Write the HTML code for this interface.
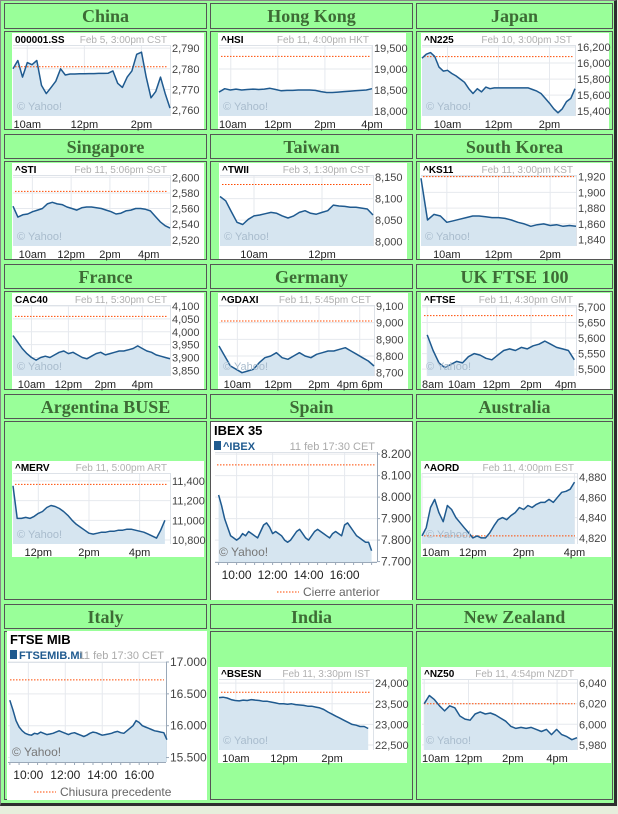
<!DOCTYPE html>
<html><head><meta charset="utf-8">
<style>
html,body{margin:0;padding:0;}
body{width:618px;height:814px;background:#e6eedc;position:relative;overflow:hidden;font-family:"Liberation Sans",sans-serif;}
#frame{position:absolute;left:0;top:0;width:613px;height:802px;background:#99ff99;border-right:3px solid #2e2e2e;border-bottom:3px solid #2e2e2e;border-left:1px solid #888;border-top:1px solid #888;}
.hd{position:absolute;background:#99ff99;border:1px solid #555;box-sizing:border-box;text-align:center;font-family:"Liberation Serif",serif;font-weight:bold;font-size:18px;color:#3d6b35;line-height:24px;}
.bd{position:absolute;background:#99ff99;border:1px solid #555;box-sizing:border-box;}
svg{position:absolute;left:0;top:0;}
</style></head>
<body>
<div id="frame"></div>
<div id="cells"></div>
<svg id="charts" width="618" height="814"></svg>
<script>
// ---------- data ----------
const chinaValues=[2780,2784,2776,2783,2782,2784,2772,2768,2771,2774,2780,2777,2777.5,2777.5,2777.6,2777.6,2777.7,2777.7,2777.8,2777.8,2777.9,2779,2773,2771,2776,2779,2787,2788,2776,2766,2769,2776,2768,2761];
const chinaYTicks=[2790,2780,2770,2760];const chinaYLabels=["2,790","2,780","2,770","2,760"];
const chinaYDomain=[2757.2,2791.5];const chinaXDomain=[9.5,15.0];const chinaT=[9.5,15.0];
const chinaXTicks=[10,12,14];const chinaXLabels=["10am","12pm","2pm"];const chinaPrev=2781;

const hkValues=[18450,18530,18500,18520,18500,18510,18520,18510,18520,18540,18510,18480,18490,18490,18500,18500,18500,18490,18460,18440,18440,18450,18460,18470,18480,18490,18500,18530];
const hkYTicks=[19500,19000,18500,18000];const hkYLabels=["19,500","19,000","18,500","18,000"];
const hkYDomain=[17880,19570];const hkXDomain=[9.5,16.0];const hkT=[9.5,16.0];
const hkXTicks=[10,12,14,16];const hkXLabels=["10am","12pm","2pm","4pm"];const hkPrev=19300;

const jpValues=[16060,16110,16130,16080,15950,15900,15910,15870,15840,15800,15760,15680,15620,15680,15640,15700,15680,15690,15690,15690,15690,15690,15690,15690,15690,15690,15670,15650,15620,15560,15500,15430,15380,15430,15520,15560,15680];
const jpYTicks=[16200,16000,15800,15600,15400];const jpYLabels=["16,200","16,000","15,800","15,600","15,400"];
const jpYDomain=[15340,16225];const jpXDomain=[9.0,15.0];const jpT=[9.0,15.0];
const jpXTicks=[10,12,14];const jpXLabels=["10am","12pm","2pm"];const jpPrev=16080;

const sgValues=[2563,2549,2552,2553,2556,2558,2560,2566,2568,2566,2565,2562,2560,2558,2561,2562,2562,2561,2560,2558,2556,2553,2554,2557,2558,2560,2560,2559,2557,2550,2543,2538,2535];
const sgYTicks=[2600,2580,2560,2540,2520];const sgYLabels=["2,600","2,580","2,560","2,540","2,520"];
const sgYDomain=[2512,2603];const sgXDomain=[9.0,17.1];const sgT=[9.0,17.1];
const sgXTicks=[10,12,14,16];const sgXLabels=["10am","12pm","2pm","4pm"];const sgPrev=2582;

const twValues=[8105,8095,8070,8045,8040,8052,8060,8062,8065,8068,8066,8060,8055,8060,8068,8072,8066,8064,8068,8072,8085,8083,8082,8080,8080,8078,8076,8062];
const twYTicks=[8150,8100,8050,8000];const twYLabels=["8,150","8,100","8,050","8,000"];
const twYDomain=[7990,8155];const twXDomain=[9.0,13.5];const twT=[9.0,13.5];
const twXTicks=[10,12];const twXLabels=["10am","12pm"];const twPrev=8133;

const krValues=[1918,1865,1872,1870,1862,1864,1866,1868,1870,1870,1869,1868,1868,1867,1865,1862,1860,1857,1859,1860,1858,1859,1857,1858,1857];
const krYTicks=[1920,1900,1880,1860,1840];const krYLabels=["1,920","1,900","1,880","1,860","1,840"];
const krYDomain=[1832,1922];const krXDomain=[9.0,15.0];const krT=[9.0,15.0];
const krXTicks=[10,12,14];const krXLabels=["10am","12pm","2pm"];const krPrev=1920;

const frValues=[3985,3960,3935,3915,3900,3890,3900,3905,3900,3910,3920,3925,3915,3920,3910,3900,3895,3905,3915,3920,3910,3915,3920,3925,3925,3930,3935,3945,3935,3925,3920,3910,3905,3900,3895];
const frYTicks=[4100,4050,4000,3950,3900,3850];const frYLabels=["4,100","4,050","4,000","3,950","3,900","3,850"];
const frYDomain=[3828,4104];const frXDomain=[9.0,17.5];const frT=[9.0,17.5];
const frXTicks=[10,12,14,16];const frXLabels=["10am","12pm","2pm","4pm"];const frPrev=4060;

const deValues=[8860,8800,8740,8720,8700,8710,8720,8760,8790,8800,8820,8790,8780,8800,8820,8800,8790,8810,8820,8830,8830,8840,8850,8830,8810,8790,8770,8740];
const deYTicks=[9100,9000,8900,8800,8700];const deYLabels=["9,100","9,000","8,900","8,800","8,700"];
const deYDomain=[8680,9106];const deXDomain=[9.1,16.7];const deT=[9.1,16.7];
const deXTicks=[10,12,14,16];const deXLabels=["10am","12pm","2pm","4pm 6pm"];const dePrev=9010;

const ukValues=[5610,5560,5520,5505,5515,5525,5520,5540,5550,5545,5535,5530,5545,5560,5565,5560,5570,5565,5575,5580,5590,5580,5570,5565,5560,5530];
const ukYTicks=[5700,5650,5600,5550,5500];const ukYLabels=["5,700","5,650","5,600","5,550","5,500"];
const ukYDomain=[5478,5706];const ukXDomain=[7.7,16.6];const ukT=[8.0,16.5];
const ukXTicks=[8,10,12,14,16];const ukXLabels=["8am","10am","12pm","2pm","4pm"];const ukPrev=5672;

const arValues=[11350,11020,11020,11030,11020,11040,11070,11090,11130,11150,11140,11120,11090,11050,11000,10960,10930,10900,10870,10860,10870,10880,10880,10890,10890,10900,10900,10910,10910,10900,10890,10880,10860,10840,10820,10900,11000];
const arYTicks=[11400,11200,11000,10800];const arYLabels=["11,400","11,200","11,000","10,800"];
const arYDomain=[10760,11480];const arXDomain=[11.0,17.2];const arT=[11.0,17.0];
const arXTicks=[12,14,16];const arXLabels=["12pm","2pm","4pm"];const arPrev=11365;

const esValues=[8010,7960,7900,7860,7820,7810,7800,7810,7830,7820,7840,7830,7820,7810,7840,7870,7880,7860,7830,7840,7830,7820,7800,7790,7800,7820,7840,7850,7830,7810,7800,7820,7840,7850,7840,7830,7820,7810,7830,7840,7830,7820,7870,7880,7860,7840,7820,7810,7800,7790,7790,7750];
const esYTicks=[8200,8100,8000,7900,7800,7700];const esYLabels=["8.200","8.100","8.000","7.900","7.800","7.700"];
const esYDomain=[7698,8210];const esXDomain=[8.8,17.8];const esT=[9.0,17.5];
const esXTicks=[10,12,14,16];const esXLabels=["10:00","12:00","14:00","16:00"];const esPrev=8150;

const auValues=[4822,4830,4850,4858,4845,4836,4852,4848,4840,4835,4830,4825,4820,4822,4820,4820,4825,4832,4838,4840,4838,4842,4845,4850,4848,4852,4850,4853,4855,4855,4858,4855,4860,4865,4866,4868,4875];
const auYTicks=[4880,4860,4840,4820];const auYLabels=["4,880","4,860","4,840","4,820"];
const auYDomain=[4814,4884];const auXDomain=[10.0,16.1];const auT=[10.0,16.0];
const auXTicks=[10,12,14,16];const auXLabels=["10am","12pm","2pm","4pm"];const auPrev=4822;

const itValues=[16400,16250,16080,15980,15920,15880,15860,15850,15880,15870,15900,15880,15860,15870,15880,15900,15920,15900,15880,15860,15880,15890,15870,15850,15830,15850,15880,15900,15890,15870,15850,15860,15870,15880,15900,15910,15890,15880,15920,15960,16000,16080,16050,16000,15980,15960,15940,15920,15910,15900,15890,15780];
const itYTicks=[17000,16500,16000,15500];const itYLabels=["17.000","16.500","16.000","15.500"];
const itYDomain=[15430,17000];const itXDomain=[8.9,17.45];const itT=[9.0,17.5];
const itXTicks=[10,12,14,16];const itXLabels=["10:00","12:00","14:00","16:00"];const itPrev=16720;

const inValues=[23650,23660,23640,23600,23580,23570,23590,23580,23600,23590,23580,23560,23560,23540,23520,23500,23500,23490,23500,23480,23470,23460,23440,23440,23420,23400,23360,23300,23250,23200,23150,23100,23050,23000,22980,22950,22950,22900];
const inYTicks=[24000,23500,23000,22500];const inYLabels=["24,000","23,500","23,000","22,500"];
const inYDomain=[22380,24100];const inXDomain=[9.3,15.7];const inT=[9.3,15.5];
const inXTicks=[10,12,14];const inXLabels=["10am","12pm","2pm"];const inPrev=23780;

const nzValues=[6020,6028,6024,6018,6013,6018,6016,6008,6005,6004,6010,6012,6010,6011,6009,6006,6003,5998,5996,5997,5996,5997,5995,5993,5995,5990,5995,5990,5988,5985,5987];
const nzYTicks=[6040,6020,6000,5980];const nzYLabels=["6,040","6,020","6,000","5,980"];
const nzYDomain=[5975,6044];const nzXDomain=[9.9,16.9];const nzT=[10.0,16.9];
const nzXTicks=[10,12,14,16];const nzXLabels=["10am","12pm","2pm","4pm"];const nzPrev=6020;

// ---------- grid ----------
const cols=[[4,207],[210,413],[416,613]];
const rows=[[3,29,31,130],[134,159,161,260],[264,289,291,390],[394,419,421,600],[604,629,631,800]];
const names=[["China","Hong Kong","Japan"],["Singapore","Taiwan","South Korea"],["France","Germany","UK FTSE 100"],["Argentina BUSE","Spain","Australia"],["Italy","India","New Zealand"]];
const cellsEl=document.getElementById('cells');
rows.forEach((r,ri)=>cols.forEach((c,ci)=>{
  const h=document.createElement('div');h.className='hd';
  h.style.cssText=`left:${c[0]}px;top:${r[0]}px;width:${c[1]-c[0]}px;height:${r[1]-r[0]}px;`;
  h.textContent=names[ri][ci];
  
  
  cellsEl.appendChild(h);
  const b=document.createElement('div');b.className='bd';
  b.style.cssText=`left:${c[0]}px;top:${r[2]}px;width:${c[1]-c[0]}px;height:${r[3]-r[2]}px;`;
  
  
  cellsEl.appendChild(b);
}));

// ---------- chart drawing ----------
const NS='http://www.w3.org/2000/svg';
const svg=document.getElementById('charts');
function el(tag,attrs,parent,txt){const e=document.createElementNS(NS,tag);for(const k in attrs)e.setAttribute(k,attrs[k]);if(txt!==undefined)e.textContent=txt;parent.appendChild(e);return e;}
function draw(c){
  const g=el('g',{},svg);
  
  
  const [bx,by,bw,bh]=c.box;
  el('rect',{x:bx,y:by,width:bw,height:bh,fill:'#fff'},g);
  let L,R,T,B;
  if(c.big){L=c.plot[0];R=c.plot[1];T=c.plot[2];B=c.plot[3];}
  else{L=bx+1;R=bx+bw-34;T=by+12;B=by+83;}
  const xs=t=>L+(t-c.xDomain[0])/(c.xDomain[1]-c.xDomain[0])*(R-L);
  const ys=v=>B-(v-c.yDomain[0])/(c.yDomain[1]-c.yDomain[0])*(B-T);
  // grid
  c.xTicks.forEach(t=>{const gl=el('line',{x1:xs(t),x2:xs(t),y1:T,y2:B,stroke:'#e6e9ee','stroke-width':1},g);});
  c.yTicks.forEach(v=>{const gl=el('line',{x1:L,x2:R,y1:ys(v),y2:ys(v),stroke:'#e6e9ee','stroke-width':1},g);});
  el('line',{x1:L,x2:R,y1:T+0.5,y2:T+0.5,stroke:'#dde2e8'},g);
  el('line',{x1:R+0.5,x2:R+0.5,y1:T,y2:B,stroke:c.big?'#9aa8b8':'#dde2e8'},g);
  // series
  const n=c.values.length;
  const pts=c.values.map((v,i)=>[xs(c.t[0]+(c.t[1]-c.t[0])*i/(n-1)),ys(v)]);
  const d=pts.map((p,i)=>(i?'L':'M')+p[0].toFixed(1)+','+p[1].toFixed(1)).join('');
  const area=el('path',{d:d+`L${pts[n-1][0].toFixed(1)},${B}L${pts[0][0].toFixed(1)},${B}Z`,fill:'#d6e5f0'},g);
  
  const pv=el('line',{x1:L+2,x2:R-2,y1:ys(c.prev),y2:ys(c.prev),stroke:'#ff4a00','stroke-width':1,'stroke-dasharray':'1.5,1.5'},g);
  
  const ln=el('path',{d:d,fill:'none',stroke:'#1f5a8f','stroke-width':1.5,'stroke-linejoin':'round'},g);
  
  // watermark
  el('text',{x:L+4,y:B-6,'font-size':c.big?12:11,fill:c.big?'#777':'#a9bccd'},g,'© Yahoo!');
  // y labels
  c.yTicks.forEach((v,i)=>{
    if(c.big)el('line',{x1:R,x2:R+3,y1:ys(v),y2:ys(v),stroke:'#9aa8b8'},g);
    const tl=el('text',{x:R+(c.big?4:2),y:ys(v)+4,'font-size':c.big?12:11,fill:'#444'},g,c.yLabels[i]);
    
  });
  // x labels
  c.xTicks.forEach((t,i)=>{
    let x=xs(t),anchor='middle';
    if(!c.big && x-12<bx+1){x=bx+1;anchor='start';}
    const tl=el('text',{x:x,y:c.big?B+17:by+95,'font-size':c.big?12:11,fill:'#222','text-anchor':anchor},g,c.xLabels[i]);
    
  });
  if(c.big){
    for(let t=Math.ceil(c.xDomain[0]*2)/2;t<=c.xDomain[1];t+=0.5)el('line',{x1:xs(t),x2:xs(t),y1:B,y2:B+3,stroke:'#9aa8b8'},g);
    el('line',{x1:L,x2:R,y1:B+0.5,y2:B+0.5,stroke:'#9aa8b8'},g);
    const tt=el('text',{x:bx+3,y:by+13,'font-size':13,'font-weight':'bold',fill:'#000'},g,c.title);
    
    el('rect',{x:bx+3,y:by+19,width:7,height:9,fill:'#1f5a8f'},g);
    el('text',{x:bx+12,y:by+28,'font-size':11,'font-weight':'bold',fill:'#1f5a8f'},g,c.symbol);
    el('text',{x:R-2,y:by+28,'font-size':11,fill:'#aaa','text-anchor':'end'},g,c.date);
    el('line',{x1:c.legX,x2:c.legX+22,y1:bh+by-8,y2:bh+by-8,stroke:'#ff4a00','stroke-dasharray':'1.5,1.5'},g);
    const lg=el('text',{x:c.legX+26,y:bh+by-4,'font-size':12,fill:'#666'},g,c.legend);
    
  } else {
    const tt=el('text',{x:bx+3,y:by+10,'font-size':10,'font-weight':'bold',fill:'#000'},g,c.symbol);
    
    el('text',{x:R-3,y:by+10,'font-size':10,fill:'#b0b0b0','text-anchor':'end'},g,c.date);
  }
}
function cfg(id,box,symbol,date,values,yTicks,yLabels,yDomain,xDomain,t,xTicks,xLabels,prev,extra){
  return Object.assign({id,box,symbol,date,values,yTicks,yLabels,yDomain,xDomain,t,xTicks,xLabels,prev},extra||{});
}
draw(cfg('china',[12,33,192,96],'000001.SS','Feb 5, 3:00pm  CST',chinaValues,chinaYTicks,chinaYLabels,chinaYDomain,chinaXDomain,chinaT,chinaXTicks,chinaXLabels,chinaPrev));
draw(cfg('hong-kong',[218,33,188,96],'^HSI','Feb 11, 4:00pm  HKT',hkValues,hkYTicks,hkYLabels,hkYDomain,hkXDomain,hkT,hkXTicks,hkXLabels,hkPrev));
draw(cfg('japan',[421,33,188,96],'^N225','Feb 10, 3:00pm  JST',jpValues,jpYTicks,jpYLabels,jpYDomain,jpXDomain,jpT,jpXTicks,jpXLabels,jpPrev));
draw(cfg('singapore',[12,163,192,96],'^STI','Feb 11, 5:06pm  SGT',sgValues,sgYTicks,sgYLabels,sgYDomain,sgXDomain,sgT,sgXTicks,sgXLabels,sgPrev));
draw(cfg('taiwan',[219,163,188,96],'^TWII','Feb 3, 1:30pm  CST',twValues,twYTicks,twYLabels,twYDomain,twXDomain,twT,twXTicks,twXLabels,twPrev));
draw(cfg('south-korea',[420,163,190,96],'^KS11','Feb 11, 3:00pm  KST',krValues,krYTicks,krYLabels,krYDomain,krXDomain,krT,krXTicks,krXLabels,krPrev));
draw(cfg('france',[12,293,192,96],'CAC40','Feb 11, 5:30pm  CET',frValues,frYTicks,frYLabels,frYDomain,frXDomain,frT,frXTicks,frXLabels,frPrev));
draw(cfg('germany',[218,293,190,96],'^GDAXI','Feb 11, 5:45pm  CET',deValues,deYTicks,deYLabels,deYDomain,deXDomain,deT,deXTicks,deXLabels,dePrev));
draw(cfg('uk',[421,293,189,96],'^FTSE','Feb 11, 4:30pm  GMT',ukValues,ukYTicks,ukYLabels,ukYDomain,ukXDomain,ukT,ukXTicks,ukXLabels,ukPrev));
draw(cfg('argentina',[12,461,192,96],'^MERV','Feb 11, 5:00pm  ART',arValues,arYTicks,arYLabels,arYDomain,arXDomain,arT,arXTicks,arXLabels,arPrev));
draw(cfg('australia',[421,461,190,96],'^AORD','Feb 11, 4:00pm  EST',auValues,auYTicks,auYLabels,auYDomain,auXDomain,auT,auXTicks,auXLabels,auPrev));
draw(cfg('india',[218,667,189,96],'^BSESN','Feb 11, 3:30pm  IST',inValues,inYTicks,inYLabels,inYDomain,inXDomain,inT,inXTicks,inXLabels,inPrev));
draw(cfg('new-zealand',[421,667,190,96],'^NZ50','Feb 11, 4:54pm  NZDT',nzValues,nzYTicks,nzYLabels,nzYDomain,nzXDomain,nzT,nzXTicks,nzXLabels,nzPrev));
draw(cfg('spain',[211,422,201,178],'^IBEX','11 feb 17:30 CET',esValues,esYTicks,esYLabels,esYDomain,esXDomain,esT,esXTicks,esXLabels,esPrev,{big:true,title:'IBEX 35',plot:[215,377,452,562],legX:277,legend:'Cierre anterior'}));
draw(cfg('italy',[7,631,200,169],'FTSEMIB.MI','11 feb 17:30 CET',itValues,itYTicks,itYLabels,itYDomain,itXDomain,itT,itXTicks,itXLabels,itPrev,{big:true,title:'FTSE MIB',plot:[8,166,662,762],legX:34,legend:'Chiusura precedente'}));
</script>
</body></html>
